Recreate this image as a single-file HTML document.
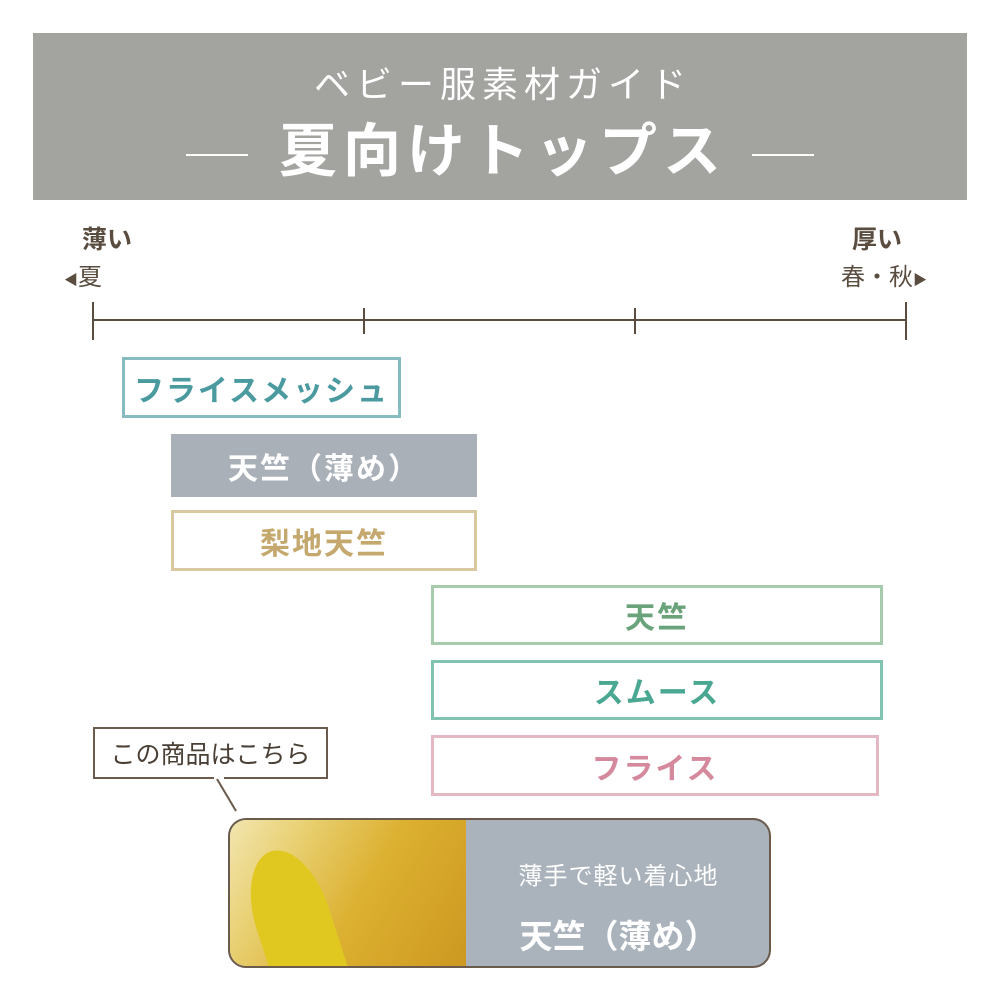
<!DOCTYPE html>
<html><head><meta charset="utf-8"><style>
*{margin:0;padding:0;box-sizing:border-box}
body{width:1000px;height:1000px;background:#fff;position:relative;overflow:hidden;font-family:"Liberation Sans","Noto Sans CJK JP",sans-serif}
.a{position:absolute}
.box{position:absolute;display:flex;align-items:center;justify-content:center;font-weight:bold;font-size:30px;letter-spacing:2px}
</style></head><body>
<div class="a" style="left:33px;top:33px;width:934px;height:167px;background:#a3a3a0"></div>
<div class="a" style="left:33px;top:56px;width:934px;text-align:center;color:#fff;font-size:36px;letter-spacing:6px;padding-left:6px">ベビー服素材ガイド</div>
<div class="a" style="left:33px;top:118px;width:934px;text-align:center;color:#fff;font-size:58px;font-weight:bold;letter-spacing:6px;padding-left:6px;line-height:68px">夏向けトップス</div>
<div class="a" style="left:186px;top:154px;width:62px;height:2px;background:#fff"></div>
<div class="a" style="left:752px;top:154px;width:62px;height:2px;background:#fff"></div>

<div class="a" style="left:82px;top:220px;font-size:25px;font-weight:bold;color:#5a4d40">薄い</div>
<div class="a" style="left:64px;top:257px;font-size:24px;color:#5a4d40"><span style="font-size:14px">◀</span>夏</div>
<div class="a" style="left:852px;top:220px;font-size:25px;font-weight:bold;color:#5a4d40">厚い</div>
<div class="a" style="left:841px;top:257px;font-size:24px;color:#5a4d40">春・秋<span style="font-size:14px">▶</span></div>

<div class="a" style="left:92px;top:319px;width:815px;height:2px;background:#5a4d40"></div>
<div class="a" style="left:92px;top:302px;width:2px;height:38px;background:#5a4d40"></div>
<div class="a" style="left:363px;top:308px;width:2px;height:26px;background:#5a4d40"></div>
<div class="a" style="left:634px;top:308px;width:2px;height:26px;background:#5a4d40"></div>
<div class="a" style="left:905px;top:302px;width:2px;height:38px;background:#5a4d40"></div>

<div class="box" style="left:122px;top:357px;width:279px;height:61px;border:3px solid #86bcbf;color:#4a9aa0">フライスメッシュ</div>
<div class="box" style="left:171px;top:434px;width:306px;height:63px;background:#a9b0b8;color:#fff">天竺（薄め）</div>
<div class="box" style="left:171px;top:510px;width:306px;height:61px;border:3px solid #d8c9a0;color:#c4a86e">梨地天竺</div>
<div class="box" style="left:431px;top:585px;width:452px;height:60px;border:3px solid #a8cbad;color:#6aa37a">天竺</div>
<div class="box" style="left:431px;top:660px;width:452px;height:60px;border:3px solid #82c2b0;color:#4aa892">スムース</div>
<div class="box" style="left:431px;top:735px;width:448px;height:61px;border:3px solid #e3b8c3;color:#d48a9c">フライス</div>

<div class="a" style="left:93px;top:727px;width:235px;height:52px;border:2px solid #6b5b4d;background:#fff;display:flex;align-items:center;justify-content:center;font-size:25px;color:#4a3f35">この商品はこちら</div>
<div class="a" style="left:214px;top:777px;width:10px;height:4px;background:#fff"></div>
<svg class="a" style="left:0;top:0" width="1000" height="1000"><line x1="217" y1="779" x2="236" y2="811" stroke="#6b5b4d" stroke-width="2"/></svg>

<div class="a" style="left:228px;top:818px;width:543px;height:150px;border:2px solid #6b5b4d;border-radius:18px;overflow:hidden;background:#aab2bb">
<div class="a" style="left:0;top:0;width:236px;height:150px;background:linear-gradient(120deg,#f2e6b0 0%,#e8cf70 25%,#dcb030 55%,#cc9820 100%)"></div>
<div class="a" style="left:25px;top:28px;width:75px;height:140px;border-radius:50% 50% 0 0;background:#e0c820;transform:rotate(-18deg)"></div>
<div class="a" style="left:236px;top:36px;width:305px;text-align:center;color:#fff;font-size:24px;letter-spacing:1px">薄手で軽い着心地</div>
<div class="a" style="left:236px;top:90px;width:305px;text-align:center;color:#fff;font-size:33px;font-weight:bold">天竺（薄め）</div>
</div>
</body></html>
